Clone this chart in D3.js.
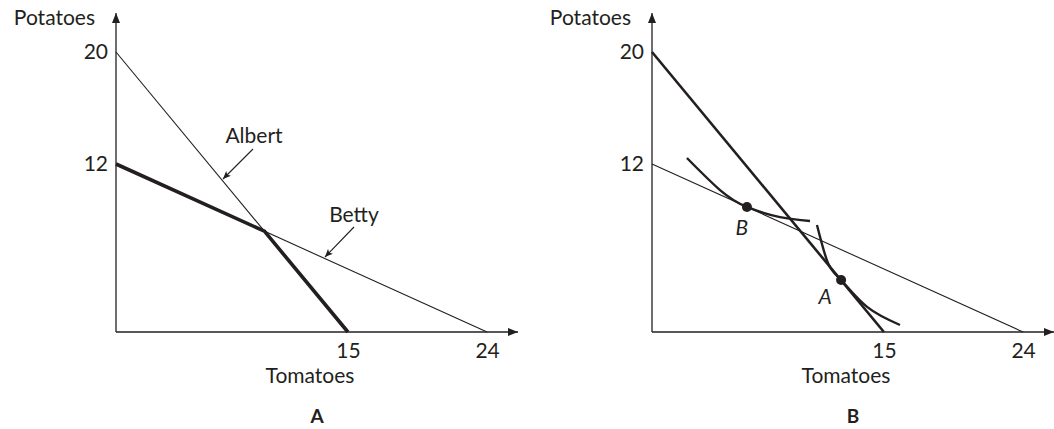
<!DOCTYPE html>
<html>
<head>
<meta charset="utf-8">
<script src="https://cdn.jsdelivr.net/npm/d3@7"></script>
<style>
  html, body { margin: 0; padding: 0; background: #fff; }
  svg text { font-family: "Lato", "Open Sans", sans-serif; fill: #231f20; }
</style>
</head>
<body>
<svg id="chart" width="1054" height="429"></svg>
<script>
// Production possibilities: intercepts on each axis (tomatoes, potatoes)
const albert = [[0, 20], [15, 0]];
const betty = [[0, 12], [24, 0]];
// Joint frontier: Betty's segment up to the kink, then Albert's
const kink = [9.6, 7.2];
const joint = [[0, 12], kink, [15, 0]];

// Tick labels
const xTicks = [15, 24];
const yTicks = [20, 12];

// Indifference curves (panel B) and chosen bundles
const curveB = [[2.26, 12.43], [4.4, 10.14], [6.14, 8.93], [8.28, 8.21], [10.22, 7.93]];
const curveA = [[10.67, 7.64], [11.38, 4.93], [12.23, 3.71], [13.91, 1.79], [16.04, 0.5]];
const points = [
  { name: "B", t: 6.14, p: 8.93 },
  { name: "A", t: 12.23, p: 3.71 }
];

const ink = "#231f20";
const fs = 21;
const svg = d3.select("#chart");

const defs = svg.append("defs");
defs.append("marker")
  .attr("id", "axisHead")
  .attr("viewBox", "0 0 10 8")
  .attr("refX", 10).attr("refY", 4)
  .attr("markerWidth", 10).attr("markerHeight", 8)
  .attr("markerUnits", "userSpaceOnUse")
  .attr("orient", "auto")
  .append("path").attr("d", "M0,0 L10,4 L0,8 Z").attr("fill", ink);
defs.append("marker")
  .attr("id", "noteHead")
  .attr("viewBox", "0 0 8 7")
  .attr("refX", 8).attr("refY", 3.5)
  .attr("markerWidth", 8).attr("markerHeight", 7)
  .attr("markerUnits", "userSpaceOnUse")
  .attr("orient", "auto")
  .append("path").attr("d", "M0,0 L8,3.5 L0,7 L2,3.5 Z").attr("fill", ink);

function panel(left, caption) {
  const g = svg.append("g");
  const x = d3.scaleLinear().domain([0, 26]).range([left, left + 402]);
  const y = d3.scaleLinear().domain([0, 20]).range([332, 52]);
  const line = d3.line().x(d => x(d[0])).y(d => y(d[1]));

  // axes with arrowheads
  g.append("line")
    .attr("x1", x(0)).attr("y1", y(0)).attr("x2", x(0)).attr("y2", 13)
    .attr("stroke", ink).attr("stroke-width", 1.3)
    .attr("marker-end", "url(#axisHead)");
  g.append("line")
    .attr("x1", x(0)).attr("y1", y(0)).attr("x2", x(26)).attr("y2", y(0))
    .attr("stroke", ink).attr("stroke-width", 1.3)
    .attr("marker-end", "url(#axisHead)");

  // tick labels through d3 axes (no tick marks, no domain line)
  const xa = g.append("g").attr("transform", `translate(0,${y(0)})`)
    .call(d3.axisBottom(x).tickValues(xTicks).tickSize(0).tickPadding(11));
  const ya = g.append("g").attr("transform", `translate(${x(0)},0)`)
    .call(d3.axisLeft(y).tickValues(yTicks).tickSize(0).tickPadding(8));
  [xa, ya].forEach(a => {
    a.select(".domain").remove();
    a.selectAll("text").attr("font-size", fs).attr("font-family", null).attr("fill", ink);
  });

  g.append("text").attr("x", x(0) - 21).attr("y", 25)
    .attr("text-anchor", "end").attr("font-size", fs).text("Potatoes");
  g.append("text").attr("x", x(0) + 194).attr("y", 383)
    .attr("text-anchor", "middle").attr("font-size", fs).text("Tomatoes");
  g.append("text").attr("x", x(0) + 201).attr("y", 423)
    .attr("text-anchor", "middle").attr("font-size", 19).attr("font-weight", 700)
    .text(caption);

  return { g, x, y, line };
}

// Panel A: individual frontiers and the joint frontier
const A = panel(116, "A");
A.g.append("path").attr("d", A.line(albert))
  .attr("fill", "none").attr("stroke", ink).attr("stroke-width", 1.1);
A.g.append("path").attr("d", A.line(betty))
  .attr("fill", "none").attr("stroke", ink).attr("stroke-width", 1.1);
A.g.append("path").attr("d", A.line(joint))
  .attr("fill", "none").attr("stroke", ink).attr("stroke-width", 3.6)
  .attr("stroke-linejoin", "miter");

A.g.append("text").attr("x", 254).attr("y", 143)
  .attr("text-anchor", "middle").attr("font-size", fs).text("Albert");
A.g.append("line").attr("x1", 253).attr("y1", 149).attr("x2", 223).attr("y2", 179)
  .attr("stroke", ink).attr("stroke-width", 1.1).attr("marker-end", "url(#noteHead)");
A.g.append("text").attr("x", 354).attr("y", 222)
  .attr("text-anchor", "middle").attr("font-size", fs).text("Betty");
A.g.append("line").attr("x1", 354).attr("y1", 227).attr("x2", 325).attr("y2", 257)
  .attr("stroke", ink).attr("stroke-width", 1.1).attr("marker-end", "url(#noteHead)");

// Panel B: Albert (thick), Betty (thin), indifference curves
const B = panel(652, "B");
B.g.append("path").attr("d", B.line(betty))
  .attr("fill", "none").attr("stroke", ink).attr("stroke-width", 1.1);
B.g.append("path").attr("d", B.line(albert))
  .attr("fill", "none").attr("stroke", ink).attr("stroke-width", 2.6);
const smooth = d3.line().x(d => B.x(d[0])).y(d => B.y(d[1])).curve(d3.curveNatural);
[curveB, curveA].forEach(c => {
  B.g.append("path").attr("d", smooth(c))
    .attr("fill", "none").attr("stroke", ink).attr("stroke-width", 2.4);
});
B.g.selectAll("circle.pt").data(points).join("circle")
  .attr("class", "pt")
  .attr("cx", d => B.x(d.t)).attr("cy", d => B.y(d.p)).attr("r", 5)
  .attr("fill", ink);
B.g.selectAll("text.pt").data(points).join("text")
  .attr("class", "pt")
  .attr("x", d => B.x(d.t) + (d.name === "B" ? -5 : -16))
  .attr("y", d => B.y(d.p) + (d.name === "B" ? 28 : 24))
  .attr("text-anchor", "middle").attr("font-size", fs).attr("font-style", "italic")
  .text(d => d.name);
</script>
</body>
</html>
